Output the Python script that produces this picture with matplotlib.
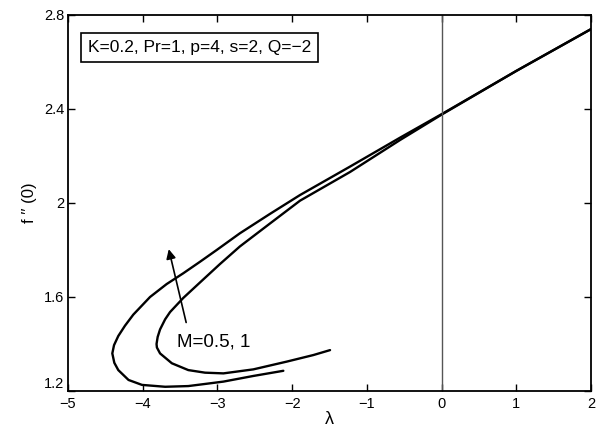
import matplotlib
matplotlib.use("Agg")
import matplotlib.pyplot as plt

# outer curve
outer_x = [2.0, 1.0, 0.0, -0.556, -1.225, -1.894, -2.3, -2.70, -3.01, -3.233, -3.457, -3.68, -3.902, -4.126,
           -4.237, -4.327, -4.384, -4.407, -4.38, -4.327, -4.19, -4.01, -3.70, -3.39, -3.166, -2.92, -2.52, -2.118]
outer_y = [2.74, 2.562, 2.378, 2.278, 2.155, 2.034, 1.953, 1.871, 1.80, 1.750, 1.701, 1.655, 1.600, 1.525,
           1.478, 1.434, 1.395, 1.360, 1.32, 1.289, 1.247, 1.226, 1.218, 1.221, 1.230, 1.240, 1.264, 1.286]

# inner curve
inner_x = [2.0, 1.0, 0.0, -0.556, -1.225, -1.894, -2.3, -2.70, -2.967, -3.233, -3.457, -3.634, -3.70, -3.768,
           -3.80, -3.815, -3.81, -3.768, -3.61, -3.39, -3.166, -2.92, -2.52, -2.073, -1.716, -1.493]
inner_y = [2.74, 2.562, 2.376, 2.268, 2.132, 2.010, 1.912, 1.815, 1.740, 1.662, 1.596, 1.536, 1.505, 1.462,
           1.43, 1.40, 1.385, 1.360, 1.318, 1.289, 1.278, 1.275, 1.292, 1.325, 1.353, 1.374]

x_ticks = [-5, -4, -3, -2, -1, 0, 1, 2]
y_ticks = [1.2, 1.6, 2.0, 2.4, 2.8]
y_tick_labels = ["1.2", "1.6", "2", "2.4", "2.8"]

plt.rcParams['font.family'] = ['Liberation Sans', 'DejaVu Sans']

fig = plt.figure(figsize=(5.97, 4.32), dpi=100)
ax = fig.add_axes([0.1139, 0.0949, 0.8761, 0.8704])

ax.plot(outer_x, outer_y, color='black', lw=1.7, solid_joinstyle='round', solid_capstyle='round')
ax.plot(inner_x, inner_y, color='black', lw=1.7, solid_joinstyle='round', solid_capstyle='round')
ax.axvline(0, color='#555555', lw=1.0)

ax.set_xlim(-5, 2)
ax.set_ylim(1.2, 2.8)
ax.set_xticks(x_ticks)
ax.set_xticklabels([str(t).replace('-', '\u2212') for t in x_ticks])
ax.set_yticks(y_ticks)
ax.set_yticklabels(y_tick_labels)
ax.tick_params(direction='in', top=True, right=True, length=5, width=1, labelsize=10.5)
ax.tick_params(axis='x', pad=4)
ax.tick_params(axis='y', pad=2.5)
for s in ax.spines.values():
    s.set_linewidth(1.3)
# keep the lowest y label clear of the first x label
ax.get_yticklabels()[0].set_verticalalignment('bottom')

ax.set_xlabel('\u03bb', fontsize=13, labelpad=0)
ax.set_ylabel("f \u2032\u2032 (0)", fontsize=12, labelpad=5)

ax.annotate('', xy=(-3.66, 1.815), xytext=(-3.41, 1.48),
            arrowprops=dict(arrowstyle='-|>', color='black', lw=1.2, mutation_scale=14))
ax.text(-3.54, 1.408, 'M=0.5, 1', fontsize=13.5, va='center', ha='left')

ax.text(-4.73, 2.66, 'K=0.2, Pr=1, p=4, s=2, Q=\u22122', fontsize=12.5, va='center', ha='left',
        bbox=dict(boxstyle='square,pad=0.4', fc='white', ec='black', lw=1.2))

fig.savefig('out.png', dpi=100)
